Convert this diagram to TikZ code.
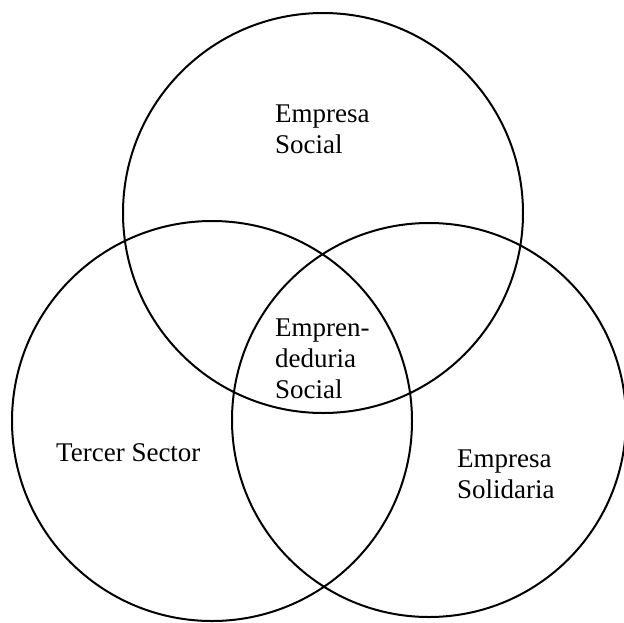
\documentclass[tikz,border=0pt]{standalone}
\usepackage{fontspec}
\setmainfont{Liberation Serif}
\usepackage{tikz}

\begin{document}
\begin{tikzpicture}[x=1pt, y=-1pt,
	ring/.style={line width=2pt, color=black},
	lbl/.style={anchor=base west, align=left, inner sep=0pt, font=\fontsize{27}{31}\selectfont}]
	\useasboundingbox (0,0) rectangle (624,622);
	\draw[ring] (323,213) circle (200pt);
	\draw[ring] (212,421) circle (200pt);
	\draw[ring] (429,420) circle (197pt);
	\node [lbl] (social) at (275,153) {Empresa\\Social};
	\node [lbl] (emprend) at (275,398) {Empren-\\deduria\\Social};
	\node [lbl] (tercer) at (56,461) {Tercer Sector};
	\node [lbl] (solidaria) at (457,498) {Empresa\\Solidaria};
\end{tikzpicture}
\end{document}
